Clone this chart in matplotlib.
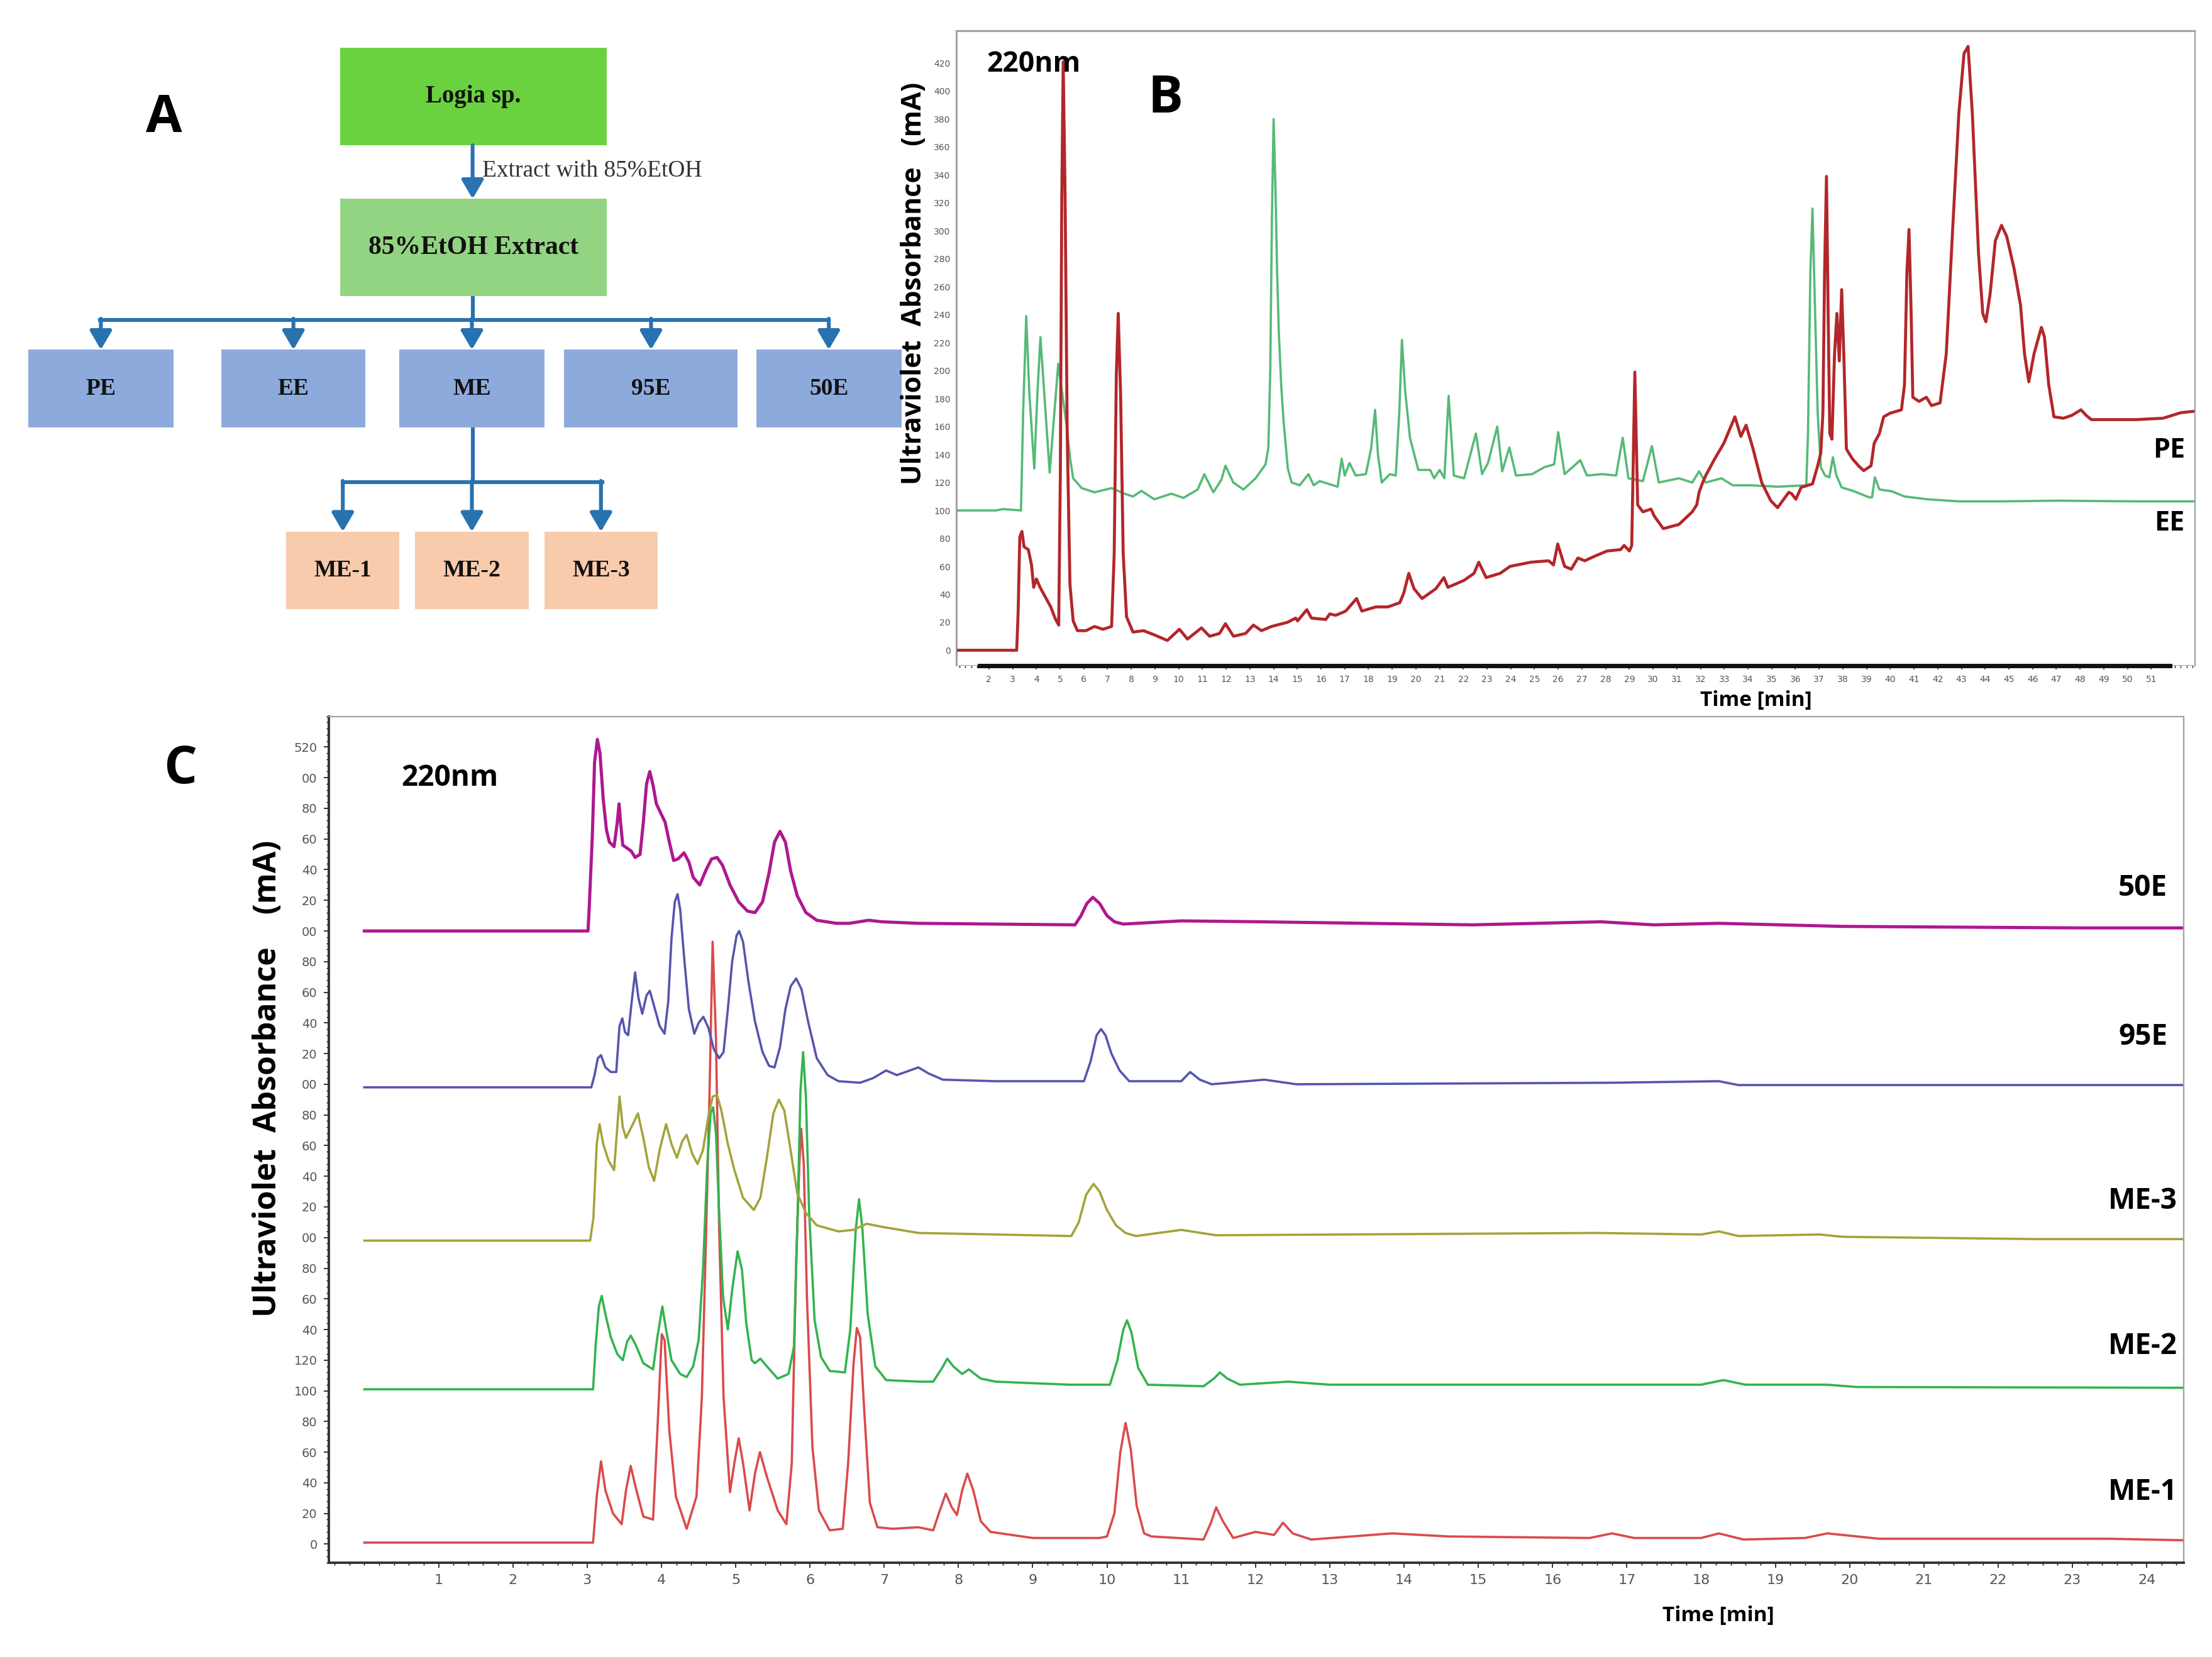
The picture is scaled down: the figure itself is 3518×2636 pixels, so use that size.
import matplotlib
matplotlib.use('Agg')
import matplotlib.pyplot as plt
from matplotlib.patches import Rectangle
from matplotlib.ticker import MultipleLocator, FuncFormatter

# ---- panel B : PE / EE chromatograms, (time [min], absorbance [mA])
b_pe = [(0.65, 0), (3.17, 0), (3.23, 27), (3.30, 81), (3.39, 85), (3.48, 74), (3.66, 72), (3.795, 61),
        (3.885, 45), (4.0, 51), (4.155, 45), (4.38, 38), (4.605, 31), (4.785, 23), (4.94, 18), (5.01, 126),
        (5.07, 324), (5.13, 421), (5.21, 324), (5.30, 154), (5.415, 47), (5.55, 21), (5.73, 14), (6.09, 14),
        (6.45, 17), (6.81, 15), (7.17, 17), (7.28, 69), (7.37, 197), (7.45, 241), (7.55, 183), (7.66, 69),
        (7.8, 24), (8.07, 13), (8.52, 14), (8.97, 11), (9.52, 7), (10.03, 15), (10.37, 8), (10.96, 16),
        (11.3, 10), (11.72, 12), (11.97, 19), (12.31, 10), (12.82, 12), (13.15, 18), (13.49, 14), (13.91, 17),
        (14.59, 20), (14.93, 23), (15.01, 21), (15.4, 29), (15.6, 23), (16.2, 22), (16.37, 26), (16.62, 25),
        (17.04, 28), (17.5, 37), (17.72, 28), (18.31, 31), (18.82, 31), (19.32, 34), (19.49, 41), (19.7, 55),
        (19.92, 44), (20.26, 37), (20.84, 44), (21.18, 52), (21.35, 45), (22.03, 50), (22.45, 55), (22.65, 63),
        (22.96, 52), (23.55, 55), (23.97, 60), (24.85, 63), (25.6, 64), (25.8, 61), (25.98, 76), (26.27, 60),
        (26.55, 58), (26.83, 66), (27.12, 64), (27.5, 67), (28.06, 71), (28.63, 72), (28.78, 75), (29.0, 71),
        (29.1, 75), (29.23, 199), (29.35, 104), (29.57, 99), (29.91, 101), (30.05, 96), (30.43, 87),
        (31.09, 90), (31.65, 99), (31.84, 104), (31.94, 113), (32.09, 120), (32.22, 125), (32.6, 137),
        (32.98, 148), (33.45, 167), (33.7, 153), (33.92, 161), (34.2, 145), (34.58, 120), (34.96, 107),
        (35.25, 102), (35.72, 113), (35.84, 112), (36.02, 108), (36.24, 116.5), (36.72, 119), (36.94, 132),
        (37.07, 141), (37.16, 170), (37.23, 270), (37.31, 339), (37.38, 241), (37.45, 155), (37.54, 151),
        (37.65, 212), (37.75, 241), (37.85, 207), (37.95, 258), (38.04, 212), (38.15, 144), (38.4, 137),
        (38.66, 132), (38.88, 128.5), (39.19, 132), (39.32, 148), (39.54, 155), (39.72, 167), (39.98, 169.5),
        (40.47, 172), (40.6, 190), (40.70, 270), (40.79, 301), (40.88, 241), (40.95, 181), (41.21, 178),
        (41.52, 181), (41.74, 175), (42.1, 177), (42.36, 212), (42.62, 298), (42.89, 384), (43.11, 427),
        (43.28, 432), (43.46, 384), (43.72, 284), (43.9, 241), (44.03, 235), (44.21, 255), (44.43, 293),
        (44.69, 304), (44.91, 296), (45.22, 273), (45.49, 247), (45.66, 212), (45.84, 192), (46.06, 212),
        (46.37, 231), (46.5, 224), (46.68, 190), (46.9, 167), (47.3, 166), (47.65, 168), (48.04, 172),
        (48.26, 168), (48.48, 165), (50.37, 165), (51.5, 166), (52.26, 170), (52.83, 171)]

b_ee = [(0.65, 100), (2.3, 100), (2.6, 101), (3.35, 100), (3.44, 169), (3.57, 239), (3.705, 183), (3.91, 130),
        (4.04, 183), (4.17, 224), (4.335, 183), (4.56, 127), (4.74, 166), (4.92, 205), (5.055, 188),
        (5.28, 160), (5.415, 138), (5.55, 123), (5.91, 116), (6.45, 113), (7.17, 116), (7.71, 112), (8.07, 110),
        (8.43, 114), (8.97, 108), (9.69, 112), (10.2, 109), (10.8, 115), (11.08, 126), (11.46, 113), (11.8, 122),
        (11.97, 132), (12.3, 120), (12.73, 115), (13.24, 123), (13.66, 133), (13.78, 145), (13.86, 200),
        (13.93, 310), (14.0, 380), (14.08, 330), (14.15, 270), (14.22, 228), (14.32, 190), (14.42, 164),
        (14.6, 130), (14.76, 120), (15.1, 118), (15.47, 126), (15.69, 118), (15.94, 121), (16.7, 117),
        (16.87, 137), (17.0, 125), (17.2, 134), (17.46, 125), (17.89, 126), (18.11, 144), (18.28, 172),
        (18.4, 140), (18.56, 120), (18.9, 126), (19.15, 125), (19.3, 170), (19.41, 222), (19.55, 185),
        (19.75, 152), (20.1, 129), (20.6, 129), (20.77, 123), (21.0, 129), (21.2, 123), (21.38, 182),
        (21.6, 125), (22.03, 123), (22.53, 155), (22.79, 126), (23.04, 134), (23.43, 160), (23.64, 128),
        (23.94, 145), (24.22, 125), (24.9, 126), (25.42, 131), (25.83, 133), (26.0, 156), (26.27, 126),
        (26.74, 133), (26.93, 136), (27.21, 125), (27.87, 126), (28.44, 125), (28.72, 152), (28.96, 123),
        (29.57, 121), (29.95, 146), (30.24, 120), (31.09, 123), (31.65, 120), (31.94, 128), (32.22, 120),
        (32.88, 123), (33.36, 118), (34.11, 118), (35.25, 117), (36.46, 118), (36.53, 155), (36.63, 270),
        (36.72, 316), (36.81, 255), (36.94, 169.5), (37.07, 131), (37.25, 125), (37.43, 123.7), (37.58, 138),
        (37.73, 125), (37.95, 116.5), (38.48, 113.7), (39.1, 109.4), (39.23, 109.4), (39.35, 123.7),
        (39.54, 115), (40.07, 113.7), (40.6, 110), (41.57, 108), (42.89, 106.5), (44.7, 106.5), (47.0, 107),
        (50.4, 106.5), (52.9, 106.5)]

# ---- panel C : five fractions (stack offsets are part of the plotted values)
c_me1 = [(0, 1), (3.08, 1), (3.129, 31), (3.187, 54), (3.246, 35), (3.348, 20), (3.465, 13), (3.523, 35),
         (3.587, 51), (3.654, 37), (3.757, 18), (3.888, 16), (3.946, 74), (4.005, 137), (4.043, 133),
         (4.107, 74), (4.195, 31), (4.34, 10), (4.472, 31), (4.545, 96), (4.603, 205), (4.647, 292),
         (4.69, 393), (4.735, 330), (4.778, 205), (4.837, 96), (4.924, 34), (4.983, 53), (5.041, 69),
         (5.099, 53), (5.187, 22), (5.26, 46), (5.327, 60), (5.42, 44), (5.566, 22), (5.683, 13), (5.756, 53),
         (5.814, 183), (5.858, 248), (5.882, 271), (5.917, 248), (5.96, 161), (6.034, 63), (6.121, 22),
         (6.267, 9), (6.442, 10), (6.515, 53), (6.588, 118), (6.632, 141), (6.676, 135), (6.734, 85),
         (6.807, 27), (6.909, 11), (7.113, 10), (7.46, 11), (7.66, 9), (7.75, 22), (7.83, 33), (7.91, 24),
         (7.98, 19), (8.05, 35), (8.12, 46), (8.2, 35), (8.3, 15), (8.43, 8), (9.0, 4), (9.9, 4), (10.0, 5),
         (10.1, 20), (10.18, 60), (10.25, 79), (10.32, 62), (10.4, 25), (10.5, 7), (10.6, 5), (11.3, 3),
         (11.4, 14), (11.47, 24), (11.56, 15), (11.7, 4), (12.0, 8), (12.25, 6), (12.37, 14), (12.5, 7),
         (12.75, 3), (13.84, 7), (14.6, 5), (16.5, 4), (16.8, 7), (17.1, 4), (18.0, 4), (18.24, 7), (18.57, 3),
         (19.4, 4), (19.7, 7), (20.4, 3.5), (22.0, 3.5), (23.5, 3.5), (24.5, 2.5)]

c_me2 = [(0, 101), (3.08, 101), (3.114, 129), (3.158, 155), (3.196, 162), (3.246, 150), (3.319, 135),
         (3.406, 124), (3.48, 120), (3.538, 132), (3.587, 136), (3.654, 130), (3.757, 118), (3.888, 114),
         (3.946, 135), (4.013, 155), (4.063, 140), (4.136, 120), (4.253, 111), (4.34, 109), (4.428, 116),
         (4.501, 133), (4.56, 179), (4.618, 248), (4.662, 281), (4.697, 285), (4.735, 268), (4.778, 216),
         (4.831, 161), (4.895, 140), (4.953, 166), (5.026, 191), (5.085, 179), (5.143, 144), (5.216, 120),
         (5.26, 118), (5.333, 121), (5.42, 116), (5.566, 108), (5.712, 111), (5.785, 129), (5.829, 205),
         (5.873, 296), (5.908, 321), (5.946, 292), (5.99, 216), (6.063, 146), (6.15, 122), (6.267, 113),
         (6.471, 112), (6.544, 140), (6.617, 205), (6.661, 225), (6.705, 207), (6.778, 150), (6.88, 116),
         (7.026, 107), (7.46, 106), (7.66, 106), (7.78, 115), (7.85, 121), (7.93, 116), (8.05, 111),
         (8.14, 114), (8.3, 108), (8.5, 106), (9.5, 104), (10.04, 104), (10.14, 120), (10.22, 140),
         (10.27, 146), (10.33, 138), (10.42, 115), (10.55, 104), (11.3, 103), (11.44, 108), (11.52, 112),
         (11.62, 108), (11.79, 104), (12.44, 106), (13.0, 104), (16.0, 104), (18.0, 104), (18.3, 107),
         (18.6, 104), (19.7, 104), (20.1, 102.5), (24.5, 102)]

c_me3 = [(0, 198), (3.04, 198), (3.085, 213), (3.129, 261), (3.167, 274), (3.217, 261), (3.29, 250),
         (3.363, 244), (3.406, 272), (3.436, 292), (3.48, 272), (3.523, 265), (3.596, 272), (3.684, 281),
         (3.757, 265), (3.83, 246), (3.902, 237), (3.976, 257), (4.063, 274), (4.136, 261), (4.209, 252),
         (4.282, 263), (4.34, 267), (4.413, 255), (4.486, 248), (4.56, 257), (4.632, 279), (4.69, 292),
         (4.749, 293), (4.807, 283), (4.895, 261), (4.983, 244), (5.099, 226), (5.245, 218), (5.333, 226),
         (5.42, 252), (5.508, 281), (5.581, 290), (5.654, 283), (5.727, 261), (5.829, 229), (5.946, 216),
         (6.092, 208), (6.384, 204), (6.588, 205), (6.763, 209), (6.97, 207), (7.46, 203), (8.5, 202),
         (9.52, 201), (9.62, 210), (9.72, 228), (9.82, 235), (9.9, 230), (10.0, 218), (10.12, 208),
         (10.25, 203), (10.39, 201), (11.0, 205), (11.47, 201.5), (16.6, 203), (18.0, 202), (18.24, 204),
         (18.5, 201), (19.6, 202), (19.9, 200.5), (22.5, 199), (24.5, 199)]

c_95e = [(0, 298), (3.056, 298), (3.10, 306), (3.144, 317), (3.187, 319), (3.246, 311), (3.319, 308),
         (3.392, 308), (3.436, 338), (3.474, 343), (3.51, 334), (3.552, 332), (3.605, 356), (3.646, 373),
         (3.692, 356), (3.742, 346), (3.80, 358), (3.844, 361), (3.902, 351), (3.976, 338), (4.043, 333),
         (4.092, 354), (4.136, 395), (4.18, 419), (4.218, 424), (4.253, 414), (4.311, 380), (4.37, 349),
         (4.443, 333), (4.501, 340), (4.565, 344), (4.632, 337), (4.705, 323), (4.778, 317), (4.837, 321),
         (4.895, 349), (4.953, 380), (5.012, 397), (5.047, 400), (5.099, 393), (5.172, 367), (5.26, 341),
         (5.362, 321), (5.45, 312), (5.523, 311), (5.596, 324), (5.67, 349), (5.741, 364), (5.815, 369),
         (5.887, 362), (5.975, 341), (6.092, 317), (6.238, 306), (6.384, 302), (6.676, 301), (6.85, 304),
         (7.026, 309), (7.17, 306), (7.288, 308), (7.46, 311), (7.6, 307), (7.79, 303), (8.5, 302),
         (9.69, 302), (9.78, 315), (9.86, 332), (9.92, 336), (9.98, 332), (10.06, 320), (10.17, 309),
         (10.3, 302), (11.0, 302), (11.12, 308), (11.25, 303), (11.41, 300), (12.12, 303), (12.55, 300),
         (16.8, 301), (18.24, 302), (18.5, 299.5), (24.5, 299.5)]

c_50e = [(0, 400), (3.012, 400), (3.027, 414), (3.07, 462), (3.10, 510), (3.138, 525), (3.173, 516),
         (3.217, 486), (3.26, 466), (3.30, 458), (3.363, 455), (3.406, 471), (3.43, 483), (3.45, 471),
         (3.48, 456), (3.54, 454), (3.596, 452), (3.646, 448), (3.713, 450), (3.757, 471), (3.80, 496),
         (3.844, 504), (3.888, 495), (3.932, 483), (3.99, 477), (4.05, 471), (4.107, 458), (4.165, 446),
         (4.224, 447), (4.305, 451), (4.37, 445), (4.428, 435), (4.516, 430), (4.603, 440), (4.676, 447),
         (4.749, 448), (4.822, 443), (4.924, 430), (5.041, 419), (5.158, 413), (5.26, 412), (5.362, 419),
         (5.45, 438), (5.523, 458), (5.596, 465), (5.67, 458), (5.741, 439), (5.829, 423), (5.946, 412),
         (6.092, 407), (6.355, 405), (6.53, 405), (6.79, 407), (6.97, 406), (7.46, 405), (8.5, 404.5),
         (9.57, 404), (9.65, 410), (9.73, 418), (9.81, 422), (9.9, 418), (10.0, 410), (10.1, 406),
         (10.22, 404.5), (11.0, 406.6), (12.06, 406), (14.92, 404), (16.65, 406), (17.36, 404), (18.24, 405),
         (19.9, 403), (23.1, 402), (24.5, 402)]

c_names = ['ME-1', 'ME-2', 'ME-3', '95E', '50E']
c_label_y = [34, 129, 224, 331, 428]

# ---- panel A : flowchart texts
root_label = 'Logia sp.'
step_label = 'Extract with 85%EtOH'
extract_label = '85%EtOH Extract'
fraction_labels = ['PE', 'EE', 'ME', '95E', '50E']
sub_labels = ['ME-1', 'ME-2', 'ME-3']

SANS = ['Open Sans', 'DejaVu Sans']
SERIF = ['Liberation Serif', 'DejaVu Serif']
W, H = 1568.0, 1175.0  # layout grid (reference pixels)


def fx(x):
    return x / W


def fy(y):
    return 1 - y / H


fig = plt.figure(figsize=(17.59, 13.18), dpi=200)

# ---------------- A : flowchart
axA = fig.add_axes([0, 0, 1, 1])
axA.set_xlim(0, W)
axA.set_ylim(H, 0)
axA.axis('off')

arrow_col = '#2872B0'


def box(x0, x1, y0, y1, color, text, size=14):
    axA.add_patch(Rectangle((x0, y0), x1 - x0, y1 - y0, facecolor=color, edgecolor='none'))
    axA.text((x0 + x1) / 2, (y0 + y1) / 2, text, ha='center', va='center',
             family=SERIF, fontweight='bold', fontsize=size, color='#111111')


def arrow(x, y0, y1):
    axA.annotate('', xy=(x, y1), xytext=(x, y0),
                 arrowprops=dict(arrowstyle='-|>,head_length=0.65,head_width=0.38',
                                 mutation_scale=14, lw=2.2, color=arrow_col,
                                 shrinkA=0, shrinkB=0))


box(241, 430, 34, 103, '#6AD13F', root_label)
box(241, 430, 141, 210, '#93D483', extract_label, 15)
arrow(335, 103, 141)
axA.text(342, 121, step_label, ha='left', va='center', family=SERIF, fontsize=13.5, color='#333333')

row_x = [(20, 123), (157, 259), (283, 386), (400, 523), (536, 639)]
axA.plot([335, 335], [210, 227], color=arrow_col, lw=2.2, solid_capstyle='butt')
axA.plot([71, 587], [227, 227], color=arrow_col, lw=2.2)
for (x0, x1), lab in zip(row_x, fraction_labels):
    arrow((x0 + x1) / 2, 226, 248)
    box(x0, x1, 248, 303, '#8DAADC', lab, 13.5)

sub_x = [(203, 283), (294, 375), (386, 466)]
axA.plot([335, 335], [303, 342], color=arrow_col, lw=2.2, solid_capstyle='butt')
axA.plot([243, 427], [342, 342], color=arrow_col, lw=2.2)
for (x0, x1), lab in zip(sub_x, sub_labels):
    arrow((x0 + x1) / 2, 341, 377)
    box(x0, x1, 377, 432, '#F8CBAD', lab, 13.5)

for letter, (lx, ly) in zip('ABC', [(116, 84), (826, 70), (128, 546)]):
    fig.text(fx(lx), fy(ly), letter, ha='center', va='center', family=SANS, fontweight='bold', fontsize=30)

# ---------------- B : PE / EE
axB = fig.add_axes([fx(678), fy(472), (1556 - 678) / W, (472 - 22) / H])
ee_t, ee_v = zip(*b_ee)
pe_t, pe_v = zip(*b_pe)
axB.plot(ee_t, ee_v, color='#55BA77', lw=1.3)
axB.plot(pe_t, pe_v, color='#B3262A', lw=1.7)
axB.set_xlim(0.63, 52.85)
axB.set_ylim(-11, 443)
for s in ['left', 'top', 'right']:
    axB.spines[s].set_color('#A0A0A0')
axB.spines['bottom'].set_color('#111111')
axB.spines['bottom'].set_linewidth(2.5)
axB.spines['bottom'].set_bounds(1.6, 51.8)
axB.add_patch(Rectangle((0, 0), 1, 1, transform=axB.transAxes, fill=False, ec='#A0A0A0', lw=1))
axB.set_xticks(range(2, 52))
axB.xaxis.set_minor_locator(MultipleLocator(0.25))
axB.set_yticks(range(0, 421, 20))
axB.tick_params(axis='both', labelsize=5, colors='#333333', labelcolor='#555555', length=2, width=0.6)
axB.tick_params(axis='x', which='minor', length=1.2, width=0.5)
axB.tick_params(axis='y', length=0)
axB.text(1.9, 419, '220nm', ha='left', va='center', family=SANS, fontweight='bold', fontsize=16)
axB.text(51.76, 143, 'PE', ha='center', va='center', family=SANS, fontweight='bold', fontsize=15.5)
axB.text(51.76, 91, 'EE', ha='center', va='center', family=SANS, fontweight='bold', fontsize=15.5)
fig.text(fx(648), fy(201), 'Ultraviolet  Absorbance   (mA)', rotation=90, ha='center', va='center',
         family=SANS, fontweight='bold', fontsize=15.5)
fig.text(fx(1245), fy(497), 'Time [min]', ha='center', va='center', family=SANS,
         fontweight='bold', fontsize=12)

# ---------------- C : fractions
axC = fig.add_axes([fx(233), fy(1108), (1548 - 233) / W, (1108 - 508) / H])
c_series = [(c_me1, '#DA4A4C', 1.3), (c_me2, '#33B34F', 1.3), (c_me3, '#A3A33A', 1.3),
            (c_95e, '#5555AE', 1.3), (c_50e, '#AE1890', 1.8)]
for (pts, col, lw), name, ly in zip(c_series, c_names, c_label_y):
    t, v = zip(*pts)
    axC.plot(t, v, color=col, lw=lw)
    axC.text(23.95, ly, name, ha='center', va='center', family=SANS, fontweight='bold', fontsize=16.5)
axC.set_xlim(-0.48, 24.5)
axC.set_ylim(-12, 540)
for s in ['top', 'right']:
    axC.spines[s].set_color('#A0A0A0')
for s in ['left', 'bottom']:
    axC.spines[s].set_color('#333333')
    axC.spines[s].set_linewidth(1.4)
axC.set_xticks(range(1, 25))
axC.xaxis.set_minor_locator(MultipleLocator(0.2))
axC.set_yticks(range(0, 521, 20))
axC.yaxis.set_minor_locator(MultipleLocator(4))
axC.yaxis.set_major_formatter(FuncFormatter(
    lambda v, p: str(int(v)) if (v <= 120 or v >= 520) else '%02d' % (int(v) % 100)))
axC.tick_params(axis='both', labelsize=7, colors='#333333', labelcolor='#555555', length=3, width=0.7)
axC.tick_params(axis='x', labelsize=8)
axC.tick_params(which='minor', length=1.5, width=0.5)
axC.text(0.5, 500, '220nm', ha='left', va='center', family=SANS, fontweight='bold', fontsize=16.5)
fig.text(fx(190), fy(765), 'Ultraviolet  Absorbance    (mA)', rotation=90, ha='center', va='center',
         family=SANS, fontweight='bold', fontsize=18)
fig.text(fx(1218), fy(1146), 'Time [min]', ha='center', va='center', family=SANS,
         fontweight='bold', fontsize=12)

fig.savefig('out.png', dpi=200)
